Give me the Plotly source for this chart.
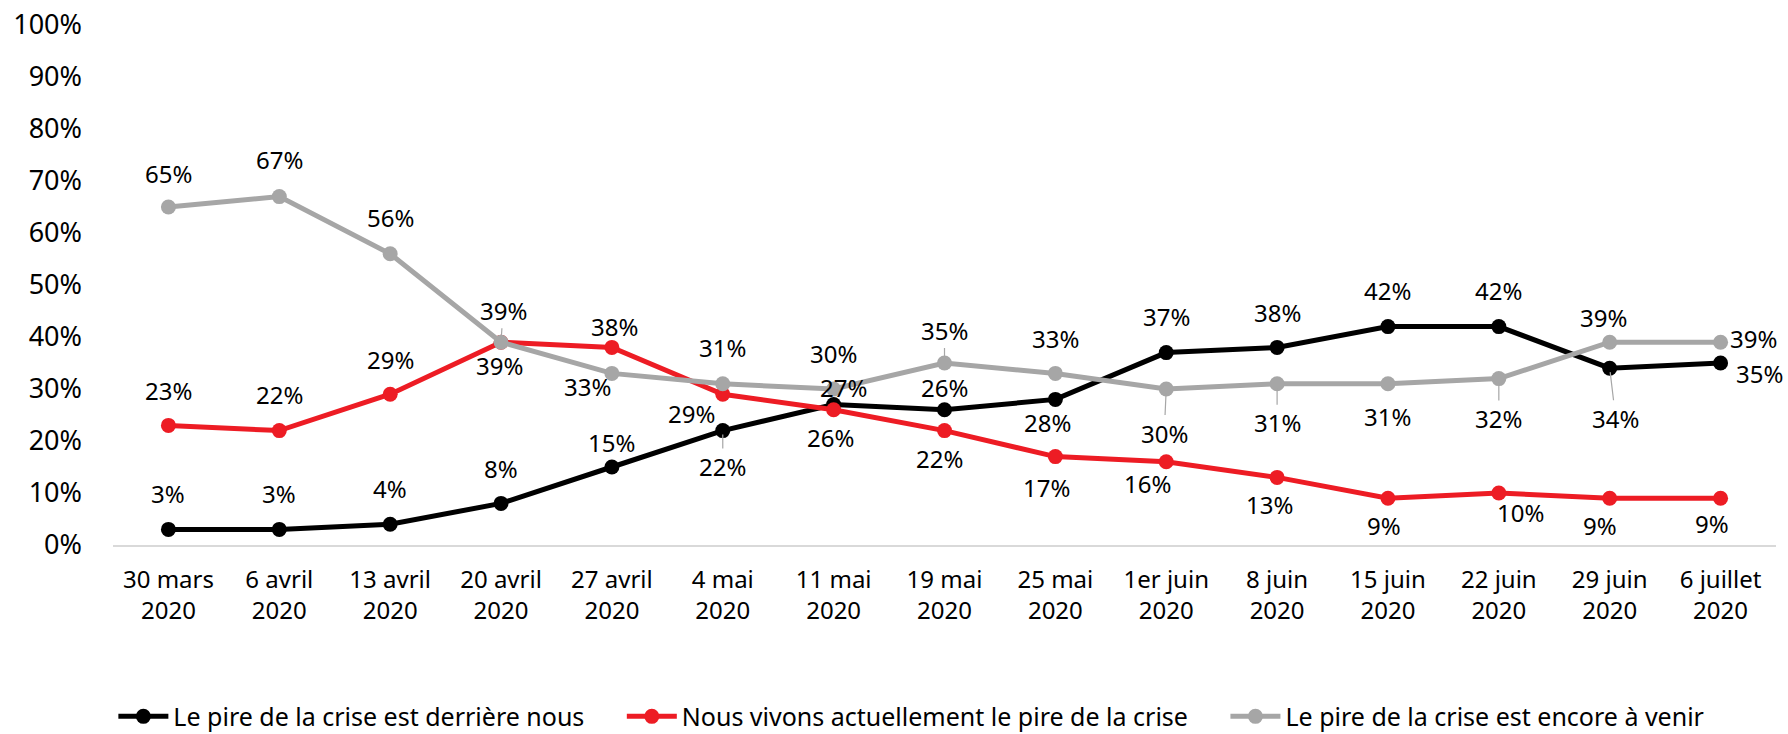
import plotly.graph_objects as go

categories = ["30 mars<br>2020", "6 avril<br>2020", "13 avril<br>2020", "20 avril<br>2020",
              "27 avril<br>2020", "4 mai<br>2020", "11 mai<br>2020", "19 mai<br>2020",
              "25 mai<br>2020", "1er juin<br>2020", "8 juin<br>2020", "15 juin<br>2020",
              "22 juin<br>2020", "29 juin<br>2020", "6 juillet<br>2020"]

derriere = [3, 3, 4, 8, 15, 22, 27, 26, 28, 37, 38, 42, 42, 34, 35]
actuellement = [23, 22, 29, 39, 38, 29, 26, 22, 17, 16, 13, 9, 10, 9, 9]
a_venir = [65, 67, 56, 39, 33, 31, 30, 35, 33, 30, 31, 31, 32, 39, 39]

names = ["Le pire de la crise est derrière nous",
         "Nous vivons actuellement le pire de la crise",
         "Le pire de la crise est encore à venir"]

y_ticks = [0, 10, 20, 30, 40, 50, 60, 70, 80, 90, 100]

# label offsets in pixels (dx, dy; positive dy = downward), leader flag
off_black = [(0, -36, 0), (0, -36, 0), (0, -36, 0), (0, -35, 0), (0, -25, 0), (0, 36, 1),
             (10, -17, 0), (0, -22, 0), (-8, 23, 0), (0, -36, 0), (0, -35, 0), (0, -36, 0),
             (0, -36, 0), (6, 50, 1), (39, 10, 0)]
off_red = [(0, -35, 0), (0, -36, 0), (0, -35, 0), (-2, 23, 0), (3, -21, 0), (-31, 19, 0),
           (-3, 28, 0), (-5, 28, 0), (-9, 31, 0), (-19, 22, 0), (-8, 27, 0), (-4, 27, 0),
           (22, 19, 0), (-10, 27, 0), (-9, 25, 0)]
off_gray = [(0, -34, 0), (0, -37, 0), (0, -36, 0), (2, -32, 1), (-24, 13, 0), (0, -36, 0),
            (0, -36, 0), (0, -33, 1), (0, -35, 0), (-2, 44, 1), (0, 39, 1), (0, 33, 0),
            (0, 40, 1), (-6, -25, 0), (33, -4, 0)]

colors = ["#000000", "#ED1C24", "#A6A6A6"]
FONT = "Noto Sans"
PAD = "\u00a0" * 5

fig = go.Figure()
for vals, name, col in zip([derriere, actuellement, a_venir], names, colors):
    fig.add_trace(go.Scatter(
        x=categories, y=vals, name=name + PAD, mode="lines+markers",
        line=dict(color=col, width=5),
        marker=dict(color=col, size=15),
        hoverinfo="skip",
    ))

annotations = []
for vals, offs in zip([derriere, actuellement, a_venir], [off_black, off_red, off_gray]):
    for cat, v, (dx, dy, lead) in zip(categories, vals, offs):
        annotations.append(dict(
            x=cat, y=v, text=f"{v}%", xref="x", yref="y",
            showarrow=True, ax=dx, ay=dy, axref="pixel", ayref="pixel",
            arrowhead=0, arrowwidth=1.2 if lead else 0.1,
            arrowcolor="#A6A6A6" if lead else "rgba(0,0,0,0)",
            standoff=4, startstandoff=0,
            font=dict(family=FONT, size=24, color="#000000"),
        ))

fig.update_layout(
    width=1788, height=734,
    margin=dict(l=113, r=12, t=25, b=189, autoexpand=False),
    paper_bgcolor="white", plot_bgcolor="white",
    font=dict(family=FONT, size=24, color="#000000"),
    showlegend=True,
    legend=dict(orientation="h", x=0.49, xanchor="center", y=-0.33, yanchor="middle",
                font=dict(family=FONT, size=25, color="#000000"),
                itemwidth=50, tracegroupgap=0),
    annotations=annotations,
    xaxis=dict(range=[-0.5, len(categories) - 0.5],
               showgrid=False, showline=True, linecolor="#D9D9D9", linewidth=2,
               ticks="", ticklabelstandoff=12, zeroline=False, fixedrange=True,
               automargin=False, ticklabeloverflow="allow"),
    yaxis=dict(range=[0, 100], tickvals=y_ticks, ticktext=[f"{t}%" for t in y_ticks],
               showgrid=False, zeroline=False, showline=False, ticks="",
               tickfont=dict(family=FONT, size=27, color="#000000"),
               ticklabelstandoff=30, fixedrange=True, automargin=False,
               ticklabeloverflow="allow"),
)

fig.write_html("out.html", config={"displayModeBar": False},
               post_script="document.body.style.margin='0';document.body.style.overflow='hidden';")
